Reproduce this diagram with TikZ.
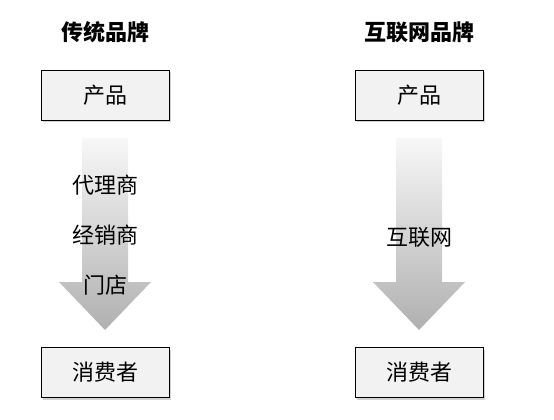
\documentclass[tikz,border=0pt]{standalone}
\usepackage{fontspec}
\setmainfont{Noto Sans CJK SC}
\usetikzlibrary{shadows}
\definecolor{boxfill}{HTML}{F2F2F2}
\tikzstyle{stage}=[
  draw=black,
  fill=boxfill,
  minimum width=96pt,
  minimum height=37.5pt,
  drop shadow={shadow xshift=1.5pt, shadow yshift=-1.5pt, opacity=0.35},
  font=\fontsize{16.5}{18}\selectfont
]
\tikzstyle{brand}=[
  font=\bfseries\fontsize{16.5}{18}\selectfont
]
\tikzstyle{channel}=[
  font=\fontsize{16.5}{18}\selectfont
]
\tikzstyle{flow}=[
  top color=gray!6,
  bottom color=gray!62,
  draw=none
]

\begin{document}
\begin{tikzpicture}[x=0.75pt, y=-0.75pt]
          \useasboundingbox (0,0) rectangle (554,419);

          \def \ShaftW {23}
          \def \HeadW {46}
          \def \ArrTop {138}
          \def \HeadY {282}
          \def \TipY {330}

          \foreach \x/\name/\t in {105/trad/传统品牌, 419/web/互联网品牌}{
            \node[brand] (\name-title) at (\x, 32) {\t};
            \node[stage] (\name-prod) at (\x, 95) {产品};
            \node[stage] (\name-cons) at (\x, 372.5) {消费者};
            \path[flow] (\x - \ShaftW, \ArrTop) -- (\x + \ShaftW, \ArrTop)
              -- (\x + \ShaftW, \HeadY) -- (\x + \HeadW, \HeadY)
              -- (\x, \TipY) -- (\x - \HeadW, \HeadY)
              -- (\x - \ShaftW, \HeadY) -- cycle;
          }

          \node[channel] (agent) at (105, 185) {代理商};
          \node[channel] (dealer) at (105, 235) {经销商};
          \node[channel] (store) at (105, 285) {门店};
          \node[channel] (net) at (419, 237) {互联网};
        \end{tikzpicture}
\end{document}
